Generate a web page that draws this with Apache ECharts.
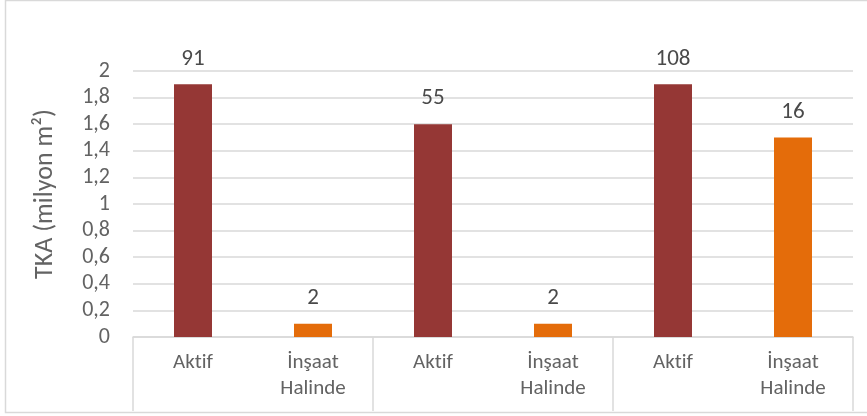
<!DOCTYPE html>
<html><head><meta charset="utf-8">
<script src="https://cdn.jsdelivr.net/npm/echarts@6/dist/echarts.min.js"></script>
<style>html,body{margin:0;padding:0;background:#fff}#c{width:867px;height:416px}</style>
</head><body><div id="c"></div>
<script>
const categories = ['Akt\u200Cif', 'İnşaat\nHalinde', 'Akt\u200Cif', 'İnşaat\nHalinde', 'Akt\u200Cif', 'İnşaat\nHalinde'];
const values = [1.9, 0.1, 1.6, 0.1, 1.9, 1.5];
const barLabels = ['91', '2', '55', '2', '108', '16'];
const groups = ['', '', ''];
const yTicks = ['0', '0,2', '0,4', '0,6', '0,8', '1', '1,2', '1,4', '1,6', '1,8', '2'];
const colorAktif = '#953735';
const colorInsaat = '#E46C0A';
const FONT = 'Carlito, "Liberation Sans", sans-serif';

const chart = echarts.init(document.getElementById('c'));
chart.setOption({
  animation: false,
  graphic: [{type: 'rect', shape: {x: 5.5, y: 0.5, width: 880, height: 412}, style: {fill: 'none', stroke: '#d9d9d9', lineWidth: 1.5}, silent: true}],
  grid: {left: 133, right: 14, top: 71, bottom: 79},
  xAxis: [{
    type: 'category', data: categories, position: 'bottom',
    axisLine: {lineStyle: {color: '#d9d9d9', width: 1.5}},
    axisTick: {show: false},
    axisLabel: {color: '#636363', fontSize: 21, fontFamily: FONT, margin: 13, lineHeight: 26, verticalAlign: 'top'}
  }, {
    type: 'category', data: groups, position: 'bottom',
    axisLine: {show: false},
    axisTick: {show: true, length: 74, lineStyle: {color: '#d9d9d9', width: 1.5}},
    axisLabel: {show: false}
  }],
  yAxis: {
    type: 'value', min: 0, max: 2, interval: 0.2,
    name: 'TKA (milyon m²)', nameLocation: 'middle', nameGap: 75, nameRotate: 90,
    nameTextStyle: {color: '#636363', fontSize: 26, fontFamily: FONT, padding: [0, 0, 0, 20]},
    axisLine: {show: false}, axisTick: {show: false},
    axisLabel: {color: '#636363', fontSize: 22, fontFamily: FONT, margin: 23,
      formatter: (v) => yTicks[Math.round(v / 0.2)]},
    splitLine: {lineStyle: {color: '#d9d9d9', width: 1.5}}
  },
  series: [{
    type: 'bar', xAxisIndex: 0, barWidth: 38,
    data: values.map((v, i) => ({value: v, itemStyle: {color: i % 2 === 0 ? colorAktif : colorInsaat}})),
    label: {show: true, position: 'top', distance: 14, color: '#4a4a4a', fontSize: 23, fontFamily: FONT,
      formatter: (p) => barLabels[p.dataIndex]}
  }]
});
</script></body></html>
